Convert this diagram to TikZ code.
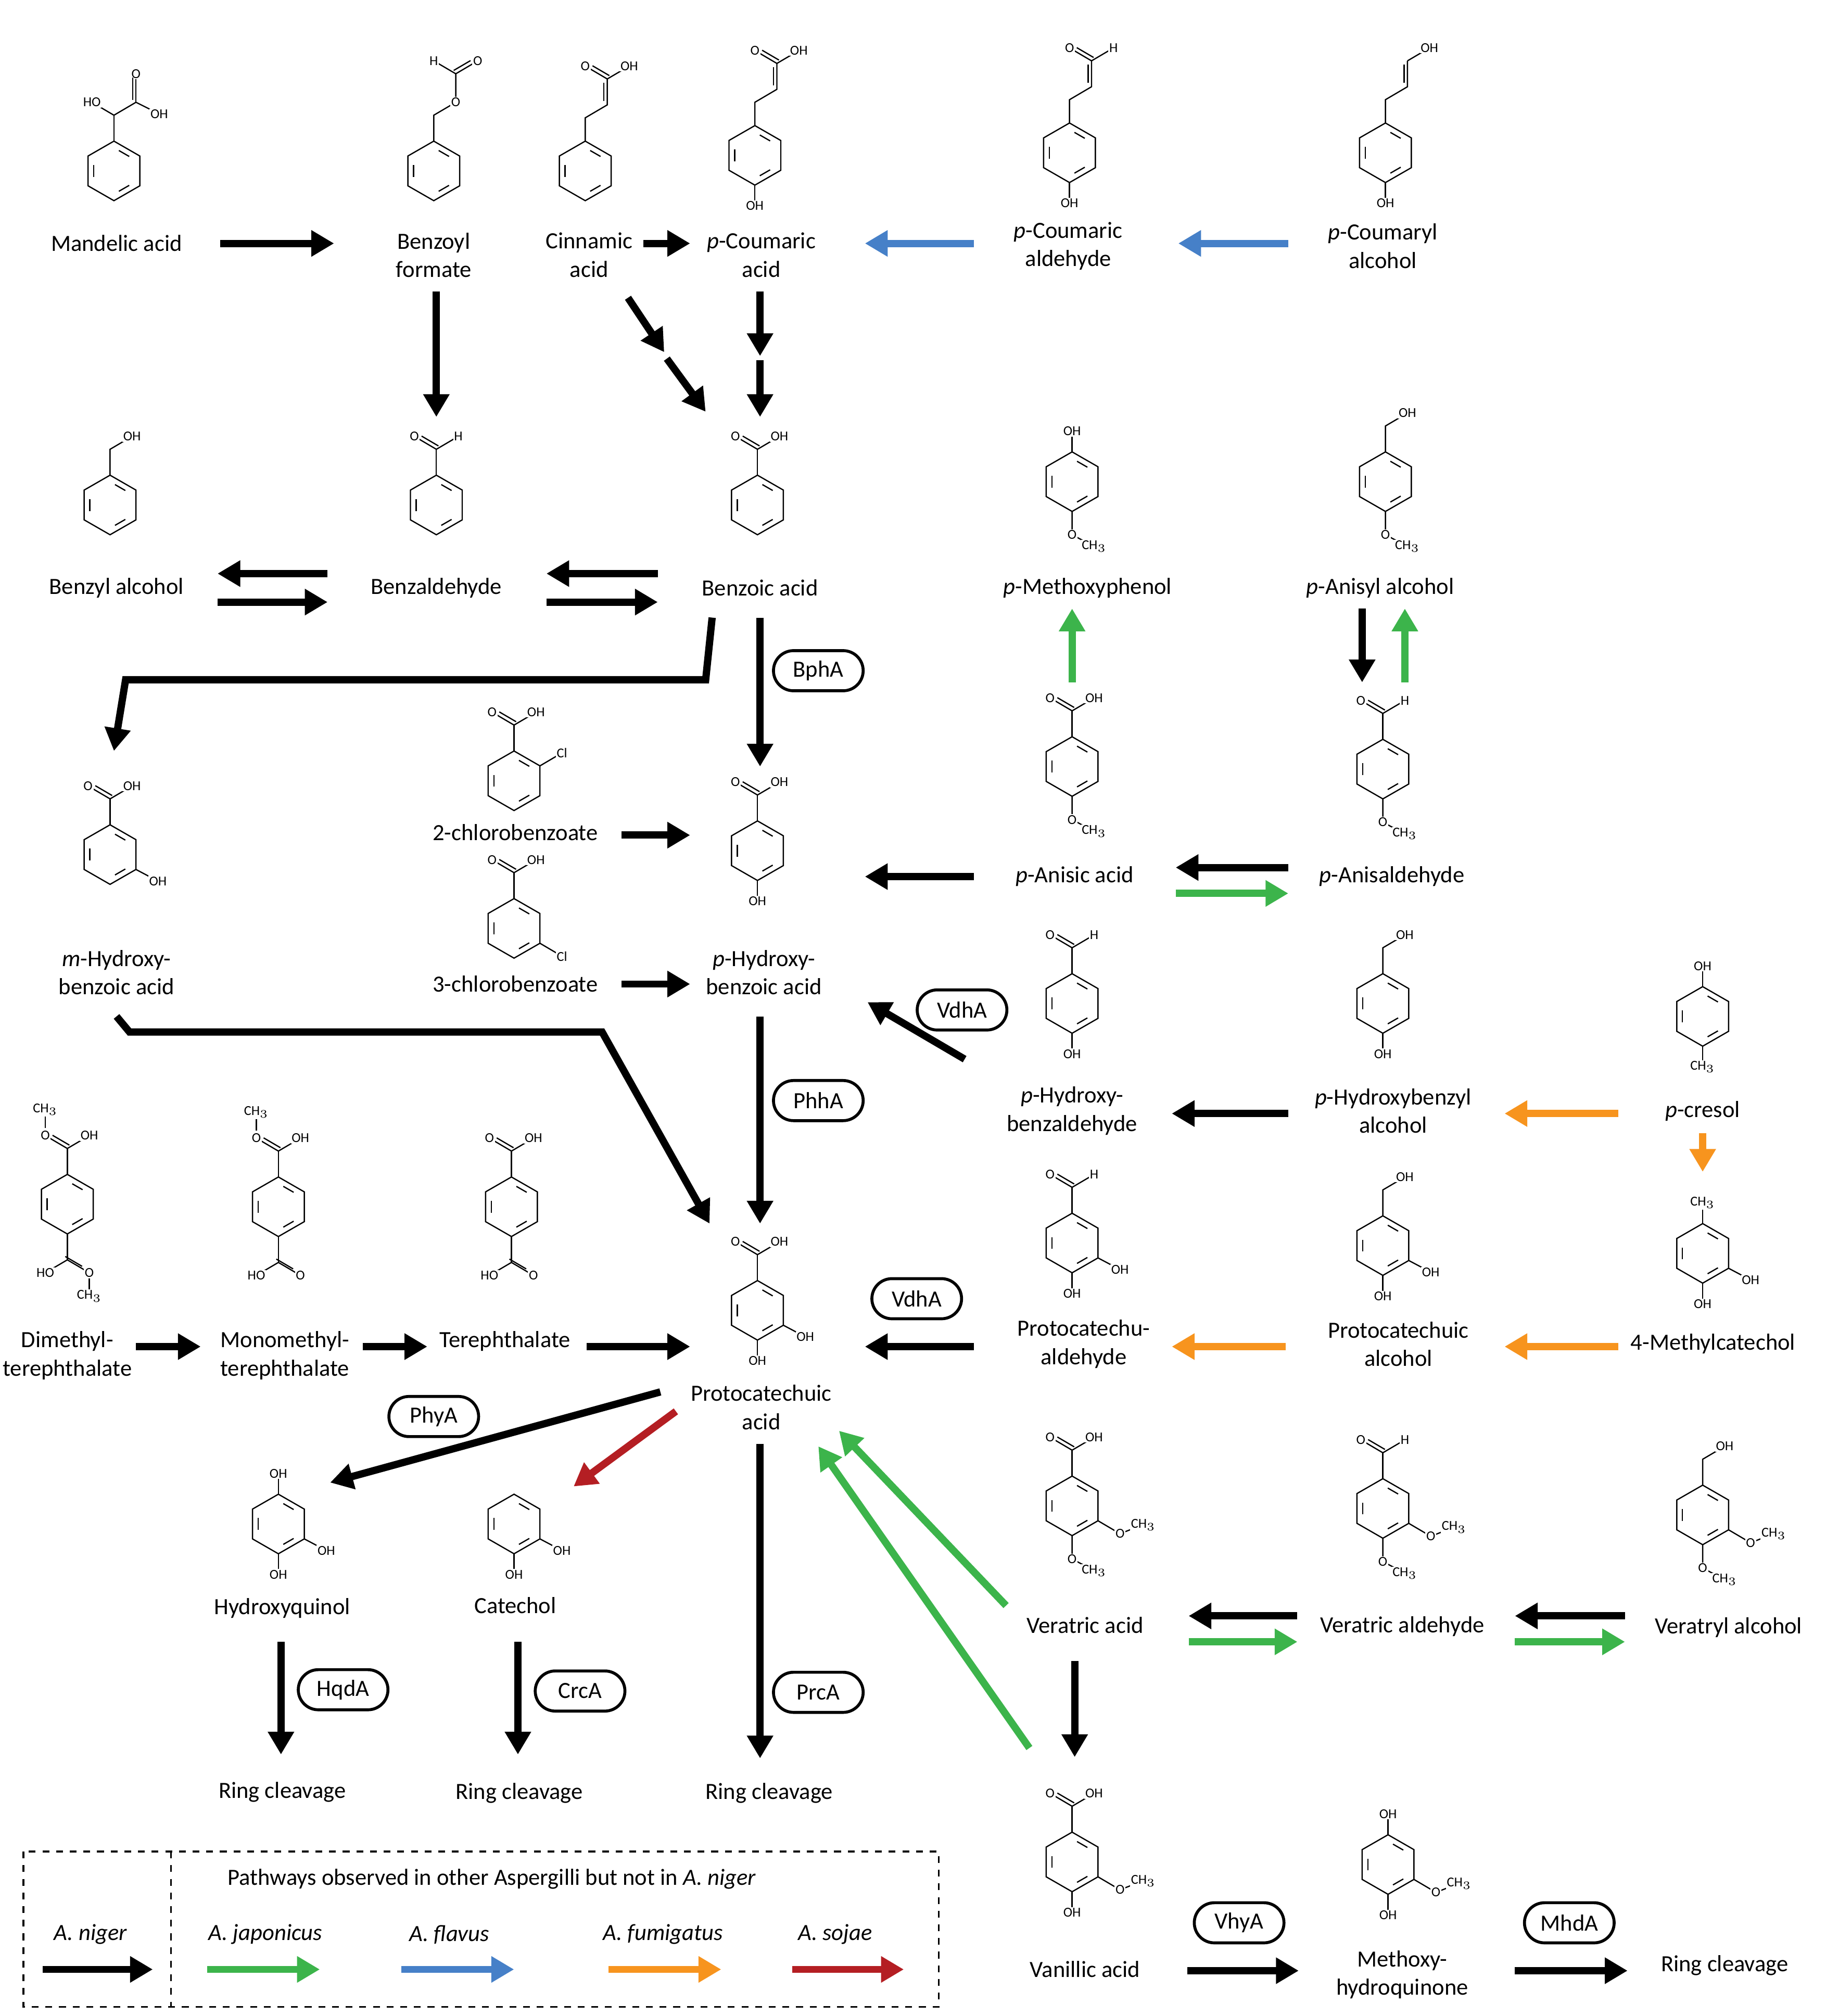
\documentclass[tikz,border=0pt]{standalone}
\usepackage{fontspec}
\setmainfont{Carlito}
\usetikzlibrary{arrows.meta,calc,shapes.misc}
\tikzset{
 bond/.style={line width=0.55pt},
 lab/.style={font=\fontsize{6}{6}\selectfont, fill=white, inner sep=0.4pt},
 txt/.style={font=\fontsize{10.2}{12.5}\selectfont, align=center, inner sep=0pt},
 arr/.style={line width=3.2pt, -{Triangle[length=10pt,width=11pt]}},
 enz/.style={draw, line width=1.3pt, rounded rectangle, minimum width=1.62cm, minimum height=0.62cm, font=\fontsize{10.2}{12}\selectfont},
}
\definecolor{cg}{RGB}{60,180,75}
\definecolor{cb}{RGB}{70,128,200}
\definecolor{co}{RGB}{247,148,30}
\definecolor{cr}{RGB}{180,30,35}
\newcommand\ring[3]{%
 \coordinate (#1-c) at (#2,#3);
 \coordinate (#1-t) at (#2,#3-23);
 \coordinate (#1-ur) at (#2+20,#3-11.5);
 \coordinate (#1-lr) at (#2+20,#3+11.5);
 \coordinate (#1-b) at (#2,#3+23);
 \coordinate (#1-ll) at (#2-20,#3+11.5);
 \coordinate (#1-ul) at (#2-20,#3-11.5);
 \draw[bond] (#1-t)--(#1-ur)--(#1-lr)--(#1-b)--(#1-ll)--(#1-ul)--cycle;
 \draw[bond,shorten <=2.5pt,shorten >=2.5pt] ($(#1-c)!.78!(#1-t)$)--($(#1-c)!.78!(#1-ur)$);
 \draw[bond,shorten <=2.5pt,shorten >=2.5pt] ($(#1-c)!.78!(#1-lr)$)--($(#1-c)!.78!(#1-b)$);
 \draw[bond,shorten <=2.5pt,shorten >=2.5pt] ($(#1-c)!.78!(#1-ll)$)--($(#1-c)!.78!(#1-ul)$);
}
\newcommand\carbup[2]{%
 \draw[bond] ([shift={(1.6,-2.6)}]#1)--++(-13,-7.6);
 \draw[bond] (#1)--++(-17,-10) node[lab]{O};
 \draw[bond] (#1)--++(17,-10) node[lab]{#2};}
\newcommand\cooh[1]{\draw[bond] (#1-t)--++(0,-20) coordinate (#1-C); \carbup{#1-C}{OH}}
\newcommand\cho[1]{\draw[bond] (#1-t)--++(0,-20) coordinate (#1-C); \carbup{#1-C}{H}}
\newcommand\ctwooh[1]{\draw[bond] (#1-t)--++(0,-20)--++(17,-10) node[lab]{OH};}
\newcommand\ohtop[1]{\draw[bond] (#1-t)--++(0,-16) node[lab]{OH};}
\newcommand\ohbot[1]{\draw[bond] (#1-b)--++(0,16) node[lab]{OH};}
\newcommand\ohr[1]{\draw[bond] (#1-lr)--++(17,9) node[lab]{OH};}
\newcommand\metop[1]{\draw[bond] (#1-t)--++(0,-16) node[lab]{CH$_3$};}
\newcommand\mebot[1]{\draw[bond] (#1-b)--++(0,16) node[lab]{CH$_3$};}
\newcommand\omebot[1]{\draw[bond] (#1-b)--++(0,18) node[lab]{O}--++(17,9) node[lab]{CH$_3$};}
\newcommand\omer[1]{\draw[bond] (#1-lr)--++(17,10) node[lab]{O}--++(18,-7) node[lab]{CH$_3$};}
\newcommand\clur[1]{\draw[bond] (#1-ur)--++(17,-10) node[lab]{Cl};}
\newcommand\cllr[1]{\draw[bond] (#1-lr)--++(17,10) node[lab]{Cl};}
\newcommand\coohbot[1]{\draw[bond] (#1-b)--++(0,20) coordinate (#1-D);
 \draw[bond] (#1-D)--++(-17,10) node[lab]{HO};
 \draw[bond] ([shift={(-1.6,-2.6)}]#1-D)--++(13,7.6);
 \draw[bond] (#1-D)--++(17,10) coordinate (#1-Ob);}
\newcommand\chain[1]{\draw[bond] (#1-t)--++(0,-18)--++(17,-10)--++(0,-20) coordinate (#1-C);
 \draw[bond] ([shift={(-2.6,0)}]#1-t)++(0,-18)++(17,-10)++(0,-3)--++(0,-14);}
\begin{document}
\begin{tikzpicture}[x=0.02cm,y=-0.02cm]
\useasboundingbox (0,0) rectangle (1410,1557);
% ---------- structures ----------
\ring{ma}{88}{132}
\draw[bond] (ma-t)--++(0,-20) coordinate (maC);
\draw[bond] (maC)--++(-17,-10) node[lab]{HO};
\draw[bond] (maC)--++(17,-10) coordinate (maD);
\draw[bond] (maD)--++(0,-22) node[lab]{O};
\draw[bond] ([shift={(-2.6,0)}]maD)++(0,-2)--++(0,-17);
\draw[bond] (maD)--++(18,9) node[lab]{OH};
\ring{bf}{335}{132}
\draw[bond] (bf-t)--++(0,-20)--++(17,-10) node[lab]{O}--++(0,-22) coordinate (bfC);
\draw[bond] (bfC)--++(-17,-10) node[lab]{H};
\draw[bond] ([shift={(-1.6,-2.6)}]bfC)--++(13,-7.6);
\draw[bond] (bfC)--++(17,-10) node[lab]{O};
\ring{ci}{452}{132}
\chain{ci} \carbup{ci-C}{OH}
\ring{pc}{583}{120}
\chain{pc} \carbup{pc-C}{OH} \ohbot{pc}
\ring{pa}{826}{118}
\chain{pa} \carbup{pa-C}{H} \ohbot{pa}
\ring{pl}{1070}{118}
\chain{pl} \draw[bond] (pl-C)--++(17,-10) node[lab]{OH}; \ohbot{pl}
\ring{ba}{85}{390} \ctwooh{ba}
\ring{bd}{337}{390} \cho{bd}
\ring{bz}{585}{390} \cooh{bz}
\ring{mp}{828}{372} \ohtop{mp} \omebot{mp}
\ring{an}{1070}{372} \ctwooh{an} \omebot{an}
\ring{mh}{85}{660} \cooh{mh} \ohr{mh}
\ring{c2}{397}{603} \cooh{c2} \clur{c2}
\ring{c3}{397}{717} \cooh{c3} \cllr{c3}
\ring{ph}{585}{657} \cooh{ph} \ohbot{ph}
\ring{aa}{828}{592} \cooh{aa} \omebot{aa}
\ring{ad}{1068}{594} \cho{ad} \omebot{ad}
\ring{hb}{828}{775} \cho{hb} \ohbot{hb}
\ring{hl}{1068}{775} \ctwooh{hl} \ohbot{hl}
\ring{pr}{1315}{785} \ohtop{pr} \mebot{pr}
\ring{dm}{52}{930}
\draw[bond] (dm-t)--++(0,-20) coordinate (dmC);
\carbup{dmC}{OH}
\draw[bond] ($(dmC)+(-17,-16)$)--++(0,-14) node[lab]{CH$_3$};
\coohbot{dm} \draw[bond] (dm-Ob) node[lab]{O}--++(0,18) node[lab]{CH$_3$};
\ring{mm}{215}{932}
\draw[bond] (mm-t)--++(0,-20) coordinate (mmC);
\carbup{mmC}{OH}
\draw[bond] ($(mmC)+(-17,-16)$)--++(0,-14) node[lab]{CH$_3$};
\coohbot{mm} \node[lab] at (mm-Ob) {O};
\ring{tp}{395}{932} \cooh{tp} \coohbot{tp} \node[lab] at (tp-Ob) {O};
\ring{pca}{585}{1012} \cooh{pca} \ohr{pca} \ohbot{pca}
\ring{pcd}{828}{960} \cho{pcd} \ohr{pcd} \ohbot{pcd}
\ring{pcl}{1068}{962} \ctwooh{pcl} \ohr{pcl} \ohbot{pcl}
\ring{mc}{1315}{968} \metop{mc} \ohr{mc} \ohbot{mc}
\ring{hq}{215}{1177} \ohtop{hq} \ohr{hq} \ohbot{hq}
\ring{ct}{397}{1177} \ohr{ct} \ohbot{ct}
\ring{va}{828}{1163} \cooh{va} \omer{va} \omebot{va}
\ring{vd}{1068}{1165} \cho{vd} \omer{vd} \omebot{vd}
\ring{vl}{1315}{1170} \ctwooh{vl} \omer{vl} \omebot{vl}
\ring{vn}{828}{1438} \cooh{vn} \omer{vn} \ohbot{vn}
\ring{mq}{1072}{1440} \ohtop{mq} \omer{mq} \ohbot{mq}
% ---------- names ----------
\node[txt] (n1) at (90,188) {Mandelic acid};
\node[txt] (n2) at (335,197) {Benzoyl\\formate};
\node[txt] (n3) at (455,197) {Cinnamic\\acid};
\node[txt] (n4) at (588,197) {\textit{p}-Coumaric\\acid};
\node[txt] (n5) at (825,190) {\textit{p}-Coumaric\\aldehyde};
\node[txt] (n6) at (1068,190) {\textit{p}-Coumaryl\\alcohol};
\node[txt] (n7) at (90,454) {Benzyl alcohol};
\node[txt] (n8) at (337,454) {Benzaldehyde};
\node[txt] (n9) at (587,454) {Benzoic acid};
\node[txt] (n10) at (840,454) {\textit{p}-Methoxyphenol};
\node[txt] (n11) at (1066,454) {\textit{p}-Anisyl alcohol};
\node[txt] (n12) at (398,643) {2-chlorobenzoate};
\node[txt] (n13) at (398,760) {3-chlorobenzoate};
\node[txt] (n14) at (90,751) {\textit{m}-Hydroxy-\\benzoic acid};
\node[txt] (n15) at (590,751) {\textit{p}-Hydroxy-\\benzoic acid};
\node[txt] (n16) at (830,677) {\textit{p}-Anisic acid};
\node[txt] (n17) at (1075,677) {\textit{p}-Anisaldehyde};
\node[txt] (n18) at (828,858) {\textit{p}-Hydroxy-\\benzaldehyde};
\node[txt] (n19) at (1076,858) {\textit{p}-Hydroxybenzyl\\alcohol};
\node[txt] (n20) at (1315,858) {\textit{p}-cresol};
\node[txt] (n21) at (52,1047) {Dimethyl-\\terephthalate};
\node[txt] (n22) at (220,1047) {Monomethyl-\\terephthalate};
\node[txt] (n23) at (390,1036) {Terephthalate};
\node[txt] (n24) at (837,1038) {Protocatechu-\\aldehyde};
\node[txt] (n25) at (1080,1038) {Protocatechuic\\alcohol};
\node[txt] (n26) at (1323,1038) {4-Methylcatechol};
\node[txt] (n27) at (588,1087) {Protocatechuic\\acid};
\node[txt] (n28) at (218,1242) {Hydroxyquinol};
\node[txt] (n29) at (398,1240) {Catechol};
\node[txt] (n30) at (838,1255) {Veratric acid};
\node[txt] (n31) at (1083,1256) {Veratric aldehyde};
\node[txt] (n32) at (1335,1257) {Veratryl alcohol};
\node[txt] (n33) at (218,1384) {Ring cleavage};
\node[txt] (n34) at (401,1385) {Ring cleavage};
\node[txt] (n35) at (594,1385) {Ring cleavage};
\node[txt] (n36) at (838,1521) {Vanillic acid};
\node[txt] (n37) at (1083,1525) {Methoxy-\\hydroquinone};
\node[txt] (n38) at (1332,1518) {Ring cleavage};
% ---------- enzymes ----------
\node[enz] (e1) at (632,518) {BphA};
\node[enz] (e2) at (743,780) {VdhA};
\node[enz] (e3) at (632,850) {PhhA};
\node[enz] (e4) at (708,1003) {VdhA};
\node[enz] (e5) at (335,1094) {PhyA};
\node[enz] (e6) at (265,1305) {HqdA};
\node[enz] (e7) at (448,1306) {CrcA};
\node[enz] (e8) at (632,1307) {PrcA};
\node[enz] (e9) at (957,1485) {VhyA};
\node[enz] (e10) at (1212,1485) {MhdA};
% ---------- arrows ----------
\draw[arr] (170,188)--(258,188);
\draw[arr] (497,188)--(533,188);
\draw[arr,cb] (752,188)--(668,188);
\draw[arr,cb] (995,188)--(910,188);
\draw[arr] (337,225)--(337,322);
\draw[arr] (485,230)--(513,272);
\draw[arr] (515,277)--(545,318);
\draw[arr] (587,225)--(587,275);
\draw[arr] (587,278)--(587,322);
\draw[arr] (253,443)--(168,443);
\draw[arr] (168,465)--(253,465);
\draw[arr] (508,443)--(422,443);
\draw[arr] (422,465)--(508,465);
\draw[arr] (550,477)--(545,525)--(97,525)--(88,580);
\draw[arr] (587,477)--(587,592);
\draw[arr] (480,645)--(533,645);
\draw[arr] (480,760)--(533,760);
\draw[arr] (752,677)--(668,677);
\draw[arr] (995,670)--(908,670);
\draw[arr,cg] (908,690)--(995,690);
\draw[arr,cg] (828,527)--(828,470);
\draw[arr] (1052,470)--(1052,527);
\draw[arr,cg] (1085,527)--(1085,470);
\draw[arr] (745,818)--(670,774);
\draw[arr] (995,860)--(905,860);
\draw[arr,co] (1250,860)--(1162,860);
\draw[arr,co] (1315,875)--(1315,905);
\draw[arr] (587,785)--(587,945);
\draw[arr] (90,785)--(100,797)--(465,797)--(548,945);
\draw[arr] (105,1040)--(155,1040);
\draw[arr] (280,1040)--(330,1040);
\draw[arr] (453,1040)--(533,1040);
\draw[arr] (752,1040)--(668,1040);
\draw[arr,co] (993,1040)--(905,1040);
\draw[arr,co] (1250,1040)--(1162,1040);
\draw[arr] (510,1075)--(255,1145);
\draw[arr,cr] (522,1090)--(443,1148);
\draw[arr] (587,1115)--(587,1358);
\draw[arr] (217,1268)--(217,1355);
\draw[arr] (400,1268)--(400,1355);
\draw[arr,cg] (777,1240)--(648,1105);
\draw[arr,cg] (795,1350)--(632,1117);
\draw[arr] (1002,1248)--(918,1248);
\draw[arr,cg] (918,1268)--(1002,1268);
\draw[arr] (1255,1248)--(1170,1248);
\draw[arr,cg] (1170,1268)--(1255,1268);
\draw[arr] (830,1283)--(830,1357);
\draw[arr] (917,1522)--(1003,1522);
\draw[arr] (1170,1522)--(1257,1522);
% ---------- legend ----------
\draw[dashed, line width=0.8pt] (18,1430) rectangle (725,1550);
\draw[dashed, line width=0.8pt] (132,1430)--(132,1550);
\node[txt] (l0) at (380,1451) {Pathways observed in other Aspergilli but not in \textit{A. niger}};
\node[txt] (l1) at (70,1494) {\textit{A. niger}};
\node[txt] (l2) at (205,1494) {\textit{A. japonicus}};
\node[txt] (l3) at (347,1494) {\textit{A. flavus}};
\node[txt] (l4) at (512,1494) {\textit{A. fumigatus}};
\node[txt] (l5) at (645,1494) {\textit{A. sojae}};
\draw[arr] (33,1521)--(118,1521);
\draw[arr,cg] (160,1521)--(247,1521);
\draw[arr,cb] (310,1521)--(397,1521);
\draw[arr,co] (470,1521)--(557,1521);
\draw[arr,cr] (612,1521)--(698,1521);
\end{tikzpicture}
\end{document}
